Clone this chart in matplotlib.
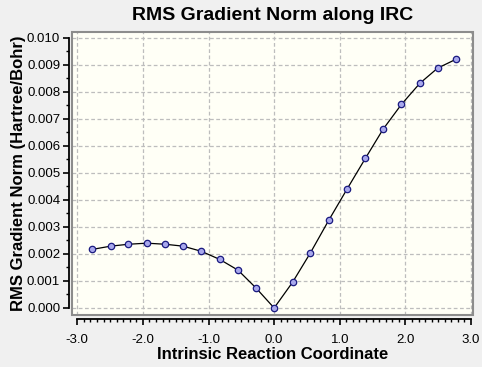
import matplotlib
matplotlib.use("Agg")
import matplotlib.pyplot as plt
from matplotlib.patches import Rectangle
from matplotlib.ticker import MultipleLocator, FormatStrFormatter

plt.rcParams['font.family'] = ['Liberation Sans', 'DejaVu Sans']

irc_x = [-2.77, -2.49, -2.22, -1.94, -1.66, -1.39, -1.11, -0.83, -0.55, -0.28, 0.0,
         0.28, 0.55, 0.83, 1.11, 1.39, 1.66, 1.94, 2.22, 2.49, 2.77]
grad_norm = [0.00217, 0.00229, 0.00236, 0.00240, 0.00236, 0.00229, 0.00210, 0.00180,
             0.00140, 0.00075, 0.00000,
             0.00095, 0.00203, 0.00324, 0.00440, 0.00554, 0.00662, 0.00754, 0.00832,
             0.00888, 0.00921]

title = "RMS Gradient Norm along IRC"
xlabel = "Intrinsic Reaction Coordinate"
ylabel = "RMS Gradient Norm (Hartree/Bohr)"

fig = plt.figure(figsize=(4.82, 3.67), dpi=100, facecolor='#F0F0F0')
ax = fig.add_axes([72/482, 52/367, 401/482, 283/367])
ax.set_facecolor('#FFFFF6')

ax.plot(irc_x, grad_norm, color='black', lw=0.9, zorder=3)
ax.plot(irc_x, grad_norm, 'o', ms=4.6, mfc='#A8A8EC', mec='#1A1A80', mew=0.9, zorder=4, linestyle='none')

ax.set_xlim(-3.08, 3.03)
ax.set_ylim(-0.00026, 0.01022)

ax.xaxis.set_major_locator(MultipleLocator(1.0))
ax.xaxis.set_minor_locator(MultipleLocator(0.1))
ax.yaxis.set_major_locator(MultipleLocator(0.001))
ax.yaxis.set_minor_locator(MultipleLocator(0.0005))
ax.xaxis.set_major_formatter(FormatStrFormatter('%.1f'))
ax.yaxis.set_major_formatter(FormatStrFormatter('%.3f'))

ax.grid(True, which='major', color='#BDBDBD', linestyle=(0, (3, 2)), lw=0.9)
ax.set_axisbelow(True)

for s in ['top', 'right']:
    ax.spines[s].set_visible(False)
ax.spines['bottom'].set_position(('outward', 3))
ax.spines['left'].set_position(('outward', 2))
ax.spines['bottom'].set_bounds(-3.0, 3.0)
ax.spines['left'].set_bounds(0.0, 0.010)
ax.spines['bottom'].set_linewidth(1.3)
ax.spines['left'].set_linewidth(1.3)

frame = Rectangle((0, 0), 1, 1, transform=ax.transAxes, fill=False,
                  edgecolor='#8C8C8C', lw=1.5, clip_on=False, zorder=5)
ax.add_patch(frame)

ax.tick_params(axis='both', which='major', direction='out', length=4.5, width=1.2,
               labelsize=9.5, color='black')
ax.tick_params(axis='x', which='major', pad=6)
ax.tick_params(axis='y', which='major', pad=2)
ax.tick_params(axis='both', which='minor', direction='out', length=2.5, width=1.0, color='black')

ax.set_title(title, fontsize=14, fontweight='bold', pad=9)
ax.set_xlabel(xlabel, fontsize=12, fontweight='bold', labelpad=1)
ax.set_ylabel(ylabel, fontsize=12, fontweight='bold', labelpad=1)

fig.savefig('out.png', dpi=100, facecolor=fig.get_facecolor())
